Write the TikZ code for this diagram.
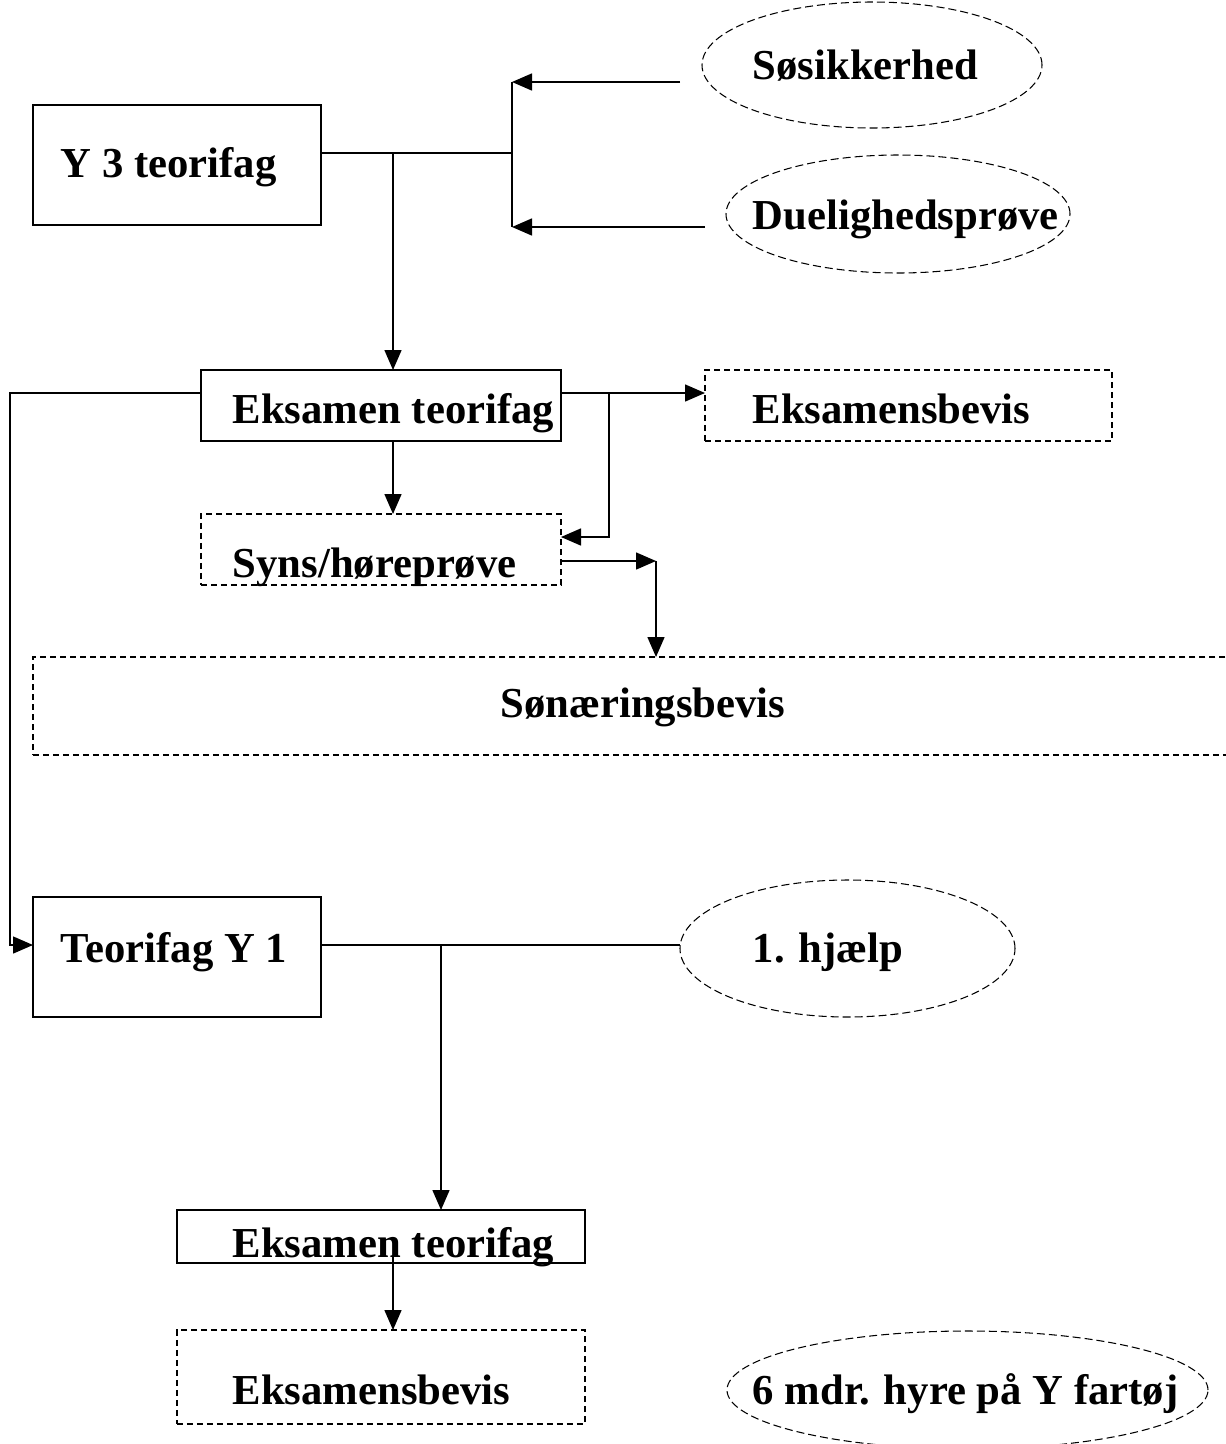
\documentclass[tikz,border=0pt]{standalone}
\usepackage{fontspec}
\setmainfont{Liberation Serif}
\usetikzlibrary{arrows.meta,shapes.geometric}
\def\pix{0.02cm} % one pixel of the layout

\begin{document}
\begin{tikzpicture}[x=\pix, y=-\pix, line width=0.85pt,
  arr/.style={-{Triangle[length=4mm,width=3.4mm]}},
  solidbox/.style={draw, rectangle, inner sep=0pt, outer sep=0pt},
  dashbox/.style={draw, rectangle, inner sep=0pt, outer sep=0pt, line width=1.1pt, dash pattern=on 0.12cm off 0.08cm},
  oval/.style={draw, ellipse, inner sep=0pt, outer sep=0pt, line width=0.6pt, dash pattern=on 0.16cm off 0.08cm},
  lbl/.style={anchor=base west, inner sep=0pt, font=\fontsize{24.3}{29}\selectfont\bfseries}]

% Fix the page size
\useasboundingbox (0,0) rectangle (1226,1444);

% Draw the boxes
\node[solidbox, minimum width=288*\pix, minimum height=120*\pix] (y3) at (177,165) {};
\node[solidbox, minimum width=360*\pix, minimum height=71*\pix] (eks1) at (381,405.5) {};
\node[dashbox, minimum width=407*\pix, minimum height=71*\pix] (bev1) at (908.5,405.5) {};
\node[dashbox, minimum width=360*\pix, minimum height=71*\pix] (syns) at (381,549.5) {};
\node[dashbox, minimum width=1217*\pix, minimum height=98*\pix] (son) at (641.5,706) {};
\node[solidbox, minimum width=288*\pix, minimum height=120*\pix] (ty1) at (177,957) {};
\node[solidbox, minimum width=408*\pix, minimum height=53*\pix] (eks2) at (381,1236.5) {};
\node[dashbox, minimum width=408*\pix, minimum height=94*\pix] (bev2) at (381,1377) {};

% Draw the ellipses
\node[oval, minimum width=340*\pix, minimum height=126*\pix] (sos) at (872,65) {};
\node[oval, minimum width=344*\pix, minimum height=118*\pix] (duel) at (898,214) {};
\node[oval, minimum width=335*\pix, minimum height=137*\pix] (hj) at (847.5,948.5) {};
\node[oval, minimum width=481*\pix, minimum height=118*\pix] (hyre) at (967.5,1390) {};

% Insert the texts
\node[lbl] (y3t) at (60,177) {Y 3 teorifag};
\node[lbl] (sost) at (752,79) {Søsikkerhed};
\node[lbl] (duelt) at (752,229) {Duelighedsprøve};
\node[lbl] (eks1t) at (232,423) {Eksamen teorifag};
\node[lbl] (bev1t) at (752,423) {Eksamensbevis};
\node[lbl] (synst) at (232,577) {Syns/høreprøve};
\node[lbl] (sont) at (500,717) {Sønæringsbevis};
\node[lbl] (ty1t) at (60,962) {Teorifag Y 1};
\node[lbl] (hjt) at (752,962) {1. hjælp};
\node[lbl] (eks2t) at (232,1257) {Eksamen teorifag};
\node[lbl] (bev2t) at (232,1404) {Eksamensbevis};
\node[lbl] (hyret) at (752,1404) {6 mdr. hyre på Y fartøj};

% Junctions of the connectors
\coordinate (jm) at (512,153);
\coordinate (jt) at (512,82);
\coordinate (jb) at (512,227);
\coordinate (sosend) at (680,82);
\coordinate (duelend) at (705,227);
\coordinate (jy3) at (393,153);
\coordinate (jl) at (10,393);
\coordinate (jx) at (609,393);
\coordinate (jsy) at (609,537);
\coordinate (jz) at (656,561);
\coordinate (jy1) at (441,945);
\coordinate (jq) at (393,1257);

% Draw the connectors
\draw (y3.east |- jm) -- (jm);
\draw (jt) -- (jb);
\draw[arr] (sosend) -- (jt);
\draw[arr] (duelend) -- (jb);
\draw[arr] (jy3) -- (jy3 |- eks1.north);
\draw[arr] (eks1.west |- jl) -- (jl) |- (ty1.west |- jy1);
\draw[arr] (eks1.east |- jl) -- (bev1.west |- jl);
\draw[arr] (jx) -- (jsy) -- (syns.east |- jsy);
\draw[arr] (jy3 |- eks1.south) -- (jy3 |- syns.north);
\draw[arr] (syns.east |- jz) -- (jz);
\draw[arr] (jz) -- (jz |- son.north);
\draw (ty1.east |- jy1) -- (hj.west |- jy1);
\draw[arr] (jy1) -- (jy1 |- eks2.north);
\draw[arr] (jq) -- (jq |- bev2.north);
\end{tikzpicture}
\end{document}
